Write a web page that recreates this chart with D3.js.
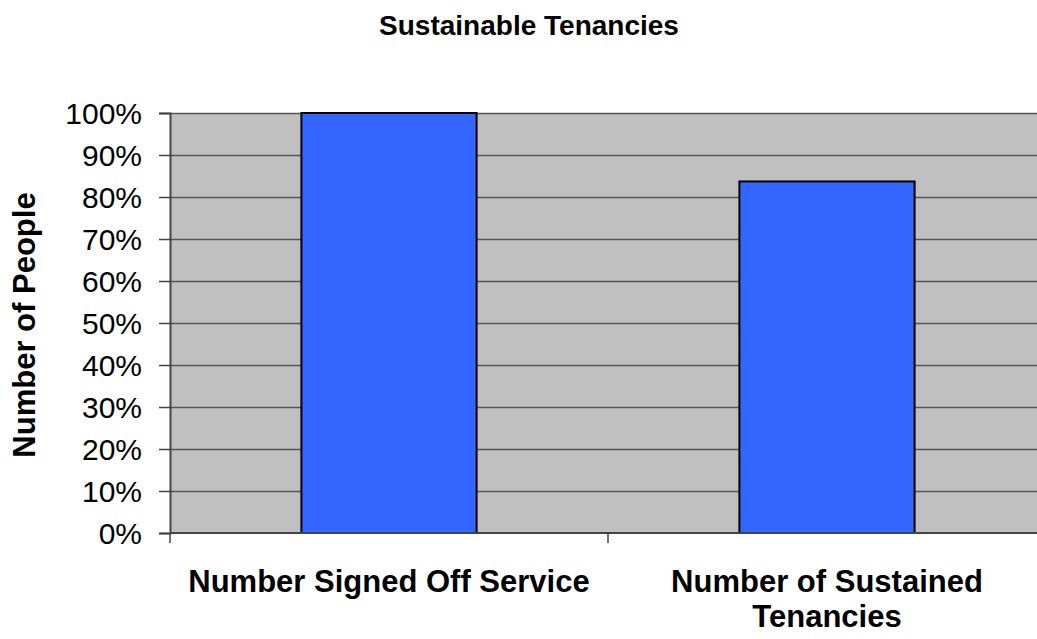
<!DOCTYPE html>
<html>
<head>
<meta charset="utf-8">
<script src="https://cdn.jsdelivr.net/npm/d3@7"></script>
<style>
  html, body { margin: 0; padding: 0; background: #fff; }
  svg { display: block; font-family: "Liberation Sans", Arial, sans-serif; }
</style>
</head>
<body>
<svg id="chart" width="1037" height="639"></svg>
<script>
// Chart data
const categories = [["Number Signed Off Service"], ["Number of Sustained", "Tenancies"]];
const values = [1.0, 0.837];
const yTicks = [0, 0.1, 0.2, 0.3, 0.4, 0.5, 0.6, 0.7, 0.8, 0.9, 1.0];
const chartTitle = "Sustainable Tenancies";
const yTitle = "Number of People";

const svg = d3.select("#chart");
const margin = { left: 170, top: 113, bottom: 533, right: 1046 };

const x = d3.scaleBand()
  .domain(d3.range(categories.length))
  .range([margin.left, margin.right])
  .paddingInner(0.6)
  .paddingOuter(0.3);

const y = d3.scaleLinear().domain([0, 1]).range([margin.bottom, margin.top]);

// Plot background
svg.append("rect")
  .attr("x", margin.left).attr("y", margin.top)
  .attr("width", margin.right - margin.left)
  .attr("height", margin.bottom - margin.top)
  .attr("fill", "#c0c0c0");

// Horizontal gridlines
svg.append("g").selectAll("line")
  .data(yTicks.slice(1))
  .join("line")
  .attr("x1", margin.left).attr("x2", margin.right)
  .attr("y1", d => Math.round(y(d)) + 0.5).attr("y2", d => Math.round(y(d)) + 0.5)
  .attr("stroke", "#555").attr("stroke-width", 1.5);

// Bars
svg.append("g").selectAll("rect")
  .data(values)
  .join("rect")
  .attr("x", (d, i) => x(i))
  .attr("y", d => y(d))
  .attr("width", x.bandwidth())
  .attr("height", d => y(0) - y(d))
  .attr("fill", "#3366ff")
  .attr("stroke", "#000")
  .attr("stroke-width", 2);

// Y axis
const yAxis = d3.axisLeft(y)
  .tickValues(yTicks)
  .tickFormat(d3.format(".0%"))
  .tickSize(11)
  .tickPadding(17);
const gy = svg.append("g")
  .attr("transform", `translate(${margin.left},0)`)
  .call(yAxis);
gy.select(".domain").attr("stroke", "#444").attr("stroke-width", 2);
gy.selectAll(".tick line").attr("stroke", "#444").attr("stroke-width", 1.5);
gy.selectAll(".tick text")
  .attr("font-size", 30)
  .attr("font-family", "Liberation Sans, Arial, sans-serif")
  .attr("fill", "#000")
  .attr("dy", "0.36em");

// X axis: boundary ticks between categories
const catBounds = d3.range(categories.length + 1).map(i => margin.left + i * x.step());
svg.append("line")
  .attr("x1", margin.left).attr("x2", margin.right)
  .attr("y1", margin.bottom).attr("y2", margin.bottom)
  .attr("stroke", "#444").attr("stroke-width", 2);
svg.append("g").selectAll("line")
  .data(catBounds)
  .join("line")
  .attr("x1", d => d).attr("x2", d => d)
  .attr("y1", margin.bottom).attr("y2", margin.bottom + 10)
  .attr("stroke", "#444").attr("stroke-width", 1.5);

// Category labels
const catLabels = svg.append("g").selectAll("text")
  .data(categories)
  .join("text")
  .attr("x", (d, i) => x(i) + x.bandwidth() / 2)
  .attr("y", 592)
  .attr("text-anchor", "middle")
  .attr("font-size", 31)
  .attr("font-weight", "bold")
  .attr("fill", "#000");
catLabels.selectAll("tspan")
  .data(d => d)
  .join("tspan")
  .attr("x", function() { return d3.select(this.parentNode).attr("x"); })
  .attr("dy", (d, i) => i === 0 ? 0 : 35)
  .text(d => d);

// Title
svg.append("text")
  .attr("x", 529).attr("y", 35)
  .attr("text-anchor", "middle")
  .attr("font-size", 28)
  .attr("font-weight", "bold")
  .attr("fill", "#000")
  .text(chartTitle);

// Y axis title
svg.append("text")
  .attr("transform", "translate(35,325) rotate(-90)")
  .attr("text-anchor", "middle")
  .attr("font-size", 31)
  .attr("font-weight", "bold")
  .attr("fill", "#000")
  .text(yTitle);
</script>
</body>
</html>
